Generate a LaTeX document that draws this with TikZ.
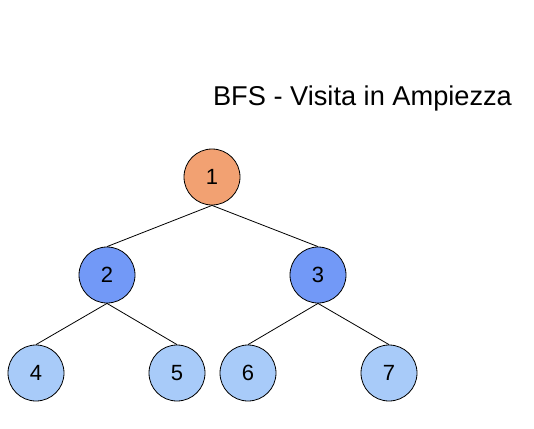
\documentclass[tikz,border=0pt]{standalone}
\usepackage{fontspec}
\setmainfont{Liberation Sans}
\usepackage{tikz}
\usetikzlibrary{positioning,calc}
\definecolor{rootcol}{HTML}{F2A172}
\definecolor{midcol}{HTML}{7299F7}
\definecolor{leafcol}{HTML}{A8CBF9}

\begin{document}
\begin{tikzpicture}[x=1pt,y=-1pt,
                    vertex/.style={circle,draw=black,line width=0.8pt,
                      minimum size=56pt,inner sep=0pt,font=\fontsize{22}{26}\selectfont},
                    tree edge/.style={draw=black,line width=0.8pt}]
                  \useasboundingbox (0,0) rectangle (534,428);

                  % title
                  \node (title) [anchor=base,font=\fontsize{27.2}{32}\selectfont] at (362.5,105) {BFS - Visita in Ampiezza};

                  % First level
                  \node (N1) [vertex,fill=rootcol] at (212,177) {1};

                  % Second level
                  \node (N2) [vertex,fill=midcol] at (107,275) {2};
                  \node (N3) [vertex,fill=midcol] at (318,275) {3};

                  % Third level
                  \node (N4) [vertex,fill=leafcol] at (36,373) {4};
                  \node (N5) [vertex,fill=leafcol] at (177,373) {5};
                  \node (N6) [vertex,fill=leafcol] at (248,373) {6};
                  \node (N7) [vertex,fill=leafcol] at (389,373) {7};

                        \path [tree edge] (N1.south) edge (N2.north);
                        \path [tree edge] (N1.south) edge (N3.north);
                        \path [tree edge] (N2.south) edge (N4.north);
                        \path [tree edge] (N2.south) edge (N5.north);
                        \path [tree edge] (N3.south) edge (N6.north);
                        \path [tree edge] (N3.south) edge (N7.north);
                \end{tikzpicture}
\end{document}
